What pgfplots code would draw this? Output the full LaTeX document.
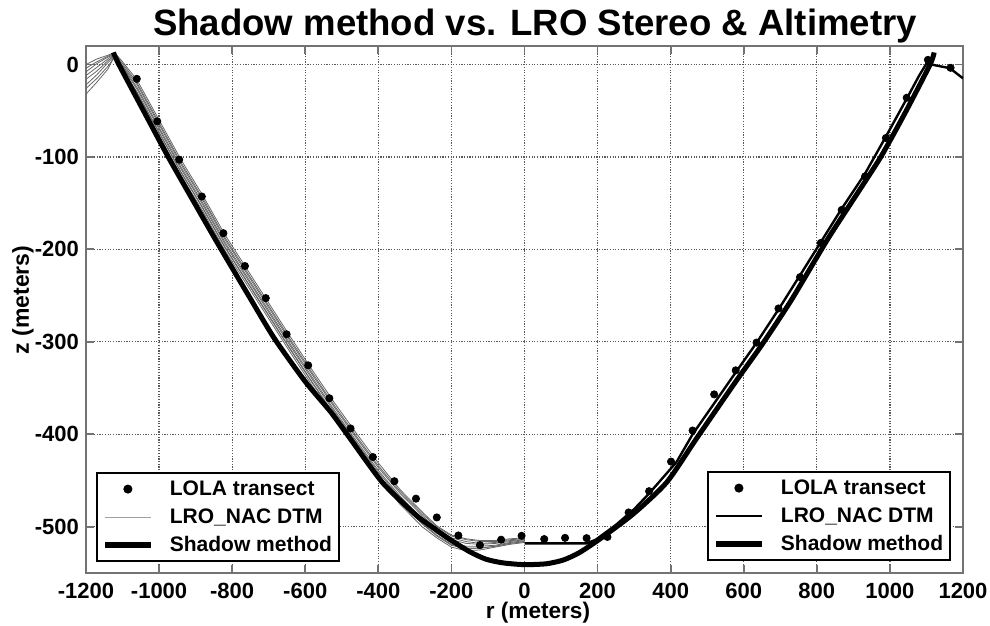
\documentclass[border=0pt]{standalone}
\usepackage{fontspec}
\setmainfont{Liberation Sans}
\usepackage{pgfplots}
\usepackage{pgfplotstable}
\pgfplotsset{compat=1.18}

\definecolor{framegray}{gray}{0.45}
\definecolor{gridgray}{gray}{0.35}
\definecolor{dtmgray}{gray}{0.4}

% LOLA transect points
\pgfplotstableread{
r z
-1061 -15.5
-1005 -61.5
-945 -103
-883 -142.8
-824 -182.5
-765 -218
-708 -252.7
-651 -291.8
-592 -325.4
-534 -361
-476 -393.7
-415 -424.6
-356 -450.7
-297 -469.6
-240 -489.9
-181 -509.4
-122 -519.9
-64 -514
-8 -509.8
54 -513.3
111 -512
170 -512.3
227 -511
285 -484.5
341 -461.5
401 -429.5
460 -395.9
519 -356.8
578 -330.8
635 -300.8
695 -263.9
754 -230
811 -193
868 -157.3
932 -121
989 -79.5
1046 -36
1104 5
1166 -3.6
}\lola

% LRO NAC DTM, left half (bundle of profiles)
\pgfplotstableread{
r z1 z2 z3 z4 z5 z6 z7 z8
-1200 -12 -22 -4 -26 0 -16 -32 -8
-1170 -3 -11 3 -15 6 -7 -19 1
-1140 6 2 9 -2 10 4 -5 8
-1122 11 9 12 8 13 10 9 11
-1100 -2 -5 1 -8 3 -3 -1 -6
-1060 -25 -30 -20 -34 -17 -27 -22 -31
-1000 -68 -73 -63 -77 -60 -70 -65 -74
-940 -111 -116 -106 -120 -103 -113 -108 -117
-880 -150 -155 -145 -159 -142 -152 -147 -156
-820 -192 -197 -187 -201 -184 -194 -189 -198
-760 -229 -234 -224 -238 -221 -231 -226 -235
-700 -266 -271 -261 -275 -258 -268 -263 -272
-640 -303 -308 -298 -312 -295 -305 -300 -309
-580 -339 -344 -334 -348 -331 -341 -336 -345
-520 -374 -379 -369 -383 -366 -376 -371 -380
-460 -407 -412 -402 -416 -399 -409 -404 -413
-400 -439 -444 -434 -448 -431 -441 -436 -445
-340 -467 -472 -462 -476 -460 -469 -464 -473
-280 -491 -496 -486 -500 -484 -494 -488 -497
-240 -504 -509 -500 -512 -499 -507 -502 -510
-200 -514 -519 -510 -522 -509 -517 -512 -520
-160 -518 -523 -514 -526 -513 -521 -516 -524
-120 -519 -523 -516 -525 -515 -521 -518 -523
-80 -518 -521 -516 -522 -515 -520 -517 -521
-40 -516 -518 -514 -519 -513 -517 -515 -518
0 -514 -516 -513 -517 -512 -515 -514 -516
}\dtmleft

% LRO NAC DTM, right half
\pgfplotstableread{
r z
0 -518
170 -518
195 -514
250 -498
300 -481
341 -464
416 -430
460 -400
520 -366
578 -333
635 -301
695 -265
754 -228
811 -192
868 -156
932 -118
989 -78
1046 -37
1080 -12
1100 1
1164 -4
1200 -15
}\dtmright

% shadow method profile
\pgfplotstableread{
r z
-1125 13
-1110 0
-1040 -52
-975 -100
-900 -152
-836 -196
-755 -250
-685 -296
-600 -343
-530 -376
-480 -403
-389 -452
-298 -487
-250 -501
-207 -513
-150 -527
-106 -535
-60 -539
0 -541
60 -540
106 -536
150 -528
207 -513
298 -486
389 -452
470 -405
578 -343
650 -303
730 -255
828 -190
900 -146
975 -100
1042 -52
1110 0
1121 13
}\shadow

\pgfplotsset{
  commonaxis/.style={
    width=438.5pt, height=263.5pt, scale only axis,
    xmin=-1200, xmax=1200, ymin=-550, ymax=20,
    at={(0,0)}, anchor=south west,
  },
  legend image code/.code={\draw[mark repeat=2,mark phase=2,#1]
    plot coordinates {(0pt,0pt) (11.5pt,0pt) (23pt,0pt)};},
  mylegend/.style={
    legend cell align=left,
    legend style={
      font=\fontsize{10.5}{12}\selectfont\bfseries,
      draw=black, line width=0.9pt, fill=white,
      inner sep=2.5pt, row sep=3pt,
      nodes={inner sep=1pt, text height=7.8pt, text depth=1.2pt},
      /tikz/every odd column/.append style={column sep=7pt},
    },
  },
}

\begin{document}
\begin{tikzpicture}
\begin{axis}[commonaxis, mylegend,
  xtick={-1200,-1000,...,1200},
  ytick={-500,-400,...,0},
  /pgf/number format/assume math mode=true,
  /pgf/number format/1000 sep={},
  tick label style={font=\fontsize{11}{13}\selectfont\bfseries, black},
  xticklabel style={yshift=-1.5pt},
  axis line style={framegray, line width=0.9pt},
  major tick style={framegray, line width=0.9pt},
  major tick length=4pt,
  grid=major,
  major grid style={gridgray, line width=0.6pt, dash pattern=on 0.6pt off 0.75pt},
  legend style={at={(0.0114,0.0209)}, anchor=south west},
]
\addplot[dtmgray, line width=0.4pt, forget plot] table[x=r, y=z1] {\dtmleft};
\addplot[dtmgray, line width=0.4pt, forget plot] table[x=r, y=z2] {\dtmleft};
\addplot[dtmgray, line width=0.4pt, forget plot] table[x=r, y=z3] {\dtmleft};
\addplot[dtmgray, line width=0.4pt, forget plot] table[x=r, y=z4] {\dtmleft};
\addplot[dtmgray, line width=0.4pt, forget plot] table[x=r, y=z5] {\dtmleft};
\addplot[dtmgray, line width=0.4pt, forget plot] table[x=r, y=z6] {\dtmleft};
\addplot[dtmgray, line width=0.4pt, forget plot] table[x=r, y=z7] {\dtmleft};
\addplot[dtmgray, line width=0.4pt, forget plot] table[x=r, y=z8] {\dtmleft};
\addplot[black, line width=1.2pt, forget plot] table[x=r, y=z] {\dtmright};
\addplot[black, line width=2.5pt, smooth, tension=0.4, forget plot] table[x=r, y=z] {\shadow};
\addplot[only marks, mark=*, mark size=1.8pt, black, forget plot] table[x=r, y=z] {\lola};

\addlegendimage{only marks, mark=*, mark size=1.8pt, black}
\addlegendentry{LOLA transect}
\addlegendimage{gray!75, line width=0.5pt}
\addlegendentry{LRO\_NAC DTM}
\addlegendimage{black, line width=3pt}
\addlegendentry{Shadow method}
\end{axis}

\begin{axis}[commonaxis, mylegend, hide axis,
  legend style={at={(0.9863,0.0228)}, anchor=south east},
]
\addlegendimage{only marks, mark=*, mark size=1.8pt, black}
\addlegendentry{LOLA transect}
\addlegendimage{black, line width=1.3pt}
\addlegendentry{LRO\_NAC DTM}
\addlegendimage{black, line width=3pt}
\addlegendentry{Shadow method}
\end{axis}

\node[anchor=base, font=\fontsize{18.3}{22}\selectfont\bfseries] at (224.5pt,268.5pt)
  {Shadow method vs. LRO Stereo \& Altimetry};
\node[anchor=base, font=\fontsize{11.3}{14}\selectfont\bfseries] at (226pt,-23pt)
  {r (meters)};
\node[rotate=90, font=\fontsize{11.5}{14}\selectfont\bfseries] at (-31.5pt,136.5pt)
  {z (meters)};

\pgfresetboundingbox
\path[use as bounding box] (-43pt,-26.5pt) rectangle (452pt,286.5pt);
\end{tikzpicture}
\end{document}
